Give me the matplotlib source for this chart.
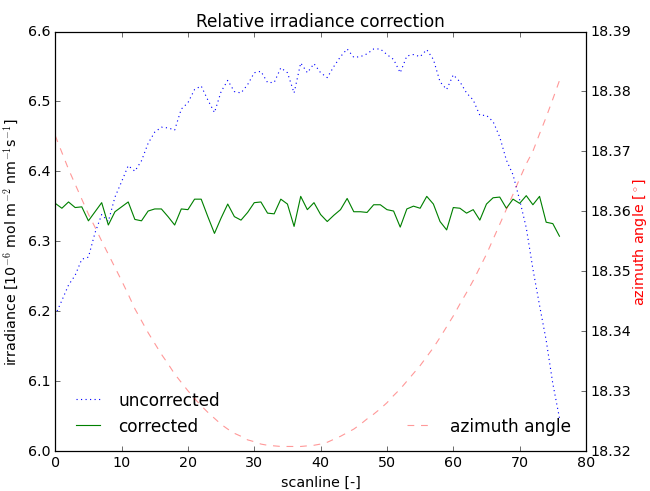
import numpy as np
import matplotlib
matplotlib.use('Agg')
import matplotlib.pyplot as plt

plt.style.use('classic')
plt.rcParams['font.size'] = 12.6

# irradiance per scanline
uncorrected = [6.194, 6.215, 6.237, 6.251, 6.274, 6.277, 6.312, 6.338, 6.328, 6.363,
               6.385, 6.408, 6.400, 6.415, 6.440, 6.456, 6.463, 6.462, 6.459, 6.489,
               6.498, 6.517, 6.522, 6.502, 6.484, 6.514, 6.530, 6.514, 6.512, 6.524,
               6.541, 6.543, 6.527, 6.527, 6.548, 6.541, 6.512, 6.555, 6.541, 6.554,
               6.541, 6.534, 6.550, 6.564, 6.575, 6.563, 6.564, 6.568, 6.575, 6.575,
               6.567, 6.560, 6.541, 6.565, 6.567, 6.564, 6.574, 6.560, 6.528, 6.517,
               6.538, 6.528, 6.512, 6.502, 6.480, 6.480, 6.471, 6.449, 6.416, 6.395,
               6.359, 6.319, 6.260, 6.208, 6.158, 6.096, 6.047]
corrected = [6.354, 6.347, 6.356, 6.348, 6.349, 6.329, 6.342, 6.355, 6.323, 6.342,
             6.349, 6.356, 6.331, 6.329, 6.343, 6.346, 6.346, 6.335, 6.323, 6.346,
             6.345, 6.360, 6.360, 6.335, 6.311, 6.333, 6.353, 6.335, 6.330, 6.341,
             6.355, 6.356, 6.340, 6.339, 6.360, 6.353, 6.321, 6.364, 6.345, 6.355,
             6.338, 6.328, 6.337, 6.345, 6.361, 6.342, 6.342, 6.341, 6.352, 6.352,
             6.345, 6.343, 6.320, 6.346, 6.350, 6.347, 6.364, 6.353, 6.328, 6.316,
             6.348, 6.347, 6.340, 6.345, 6.330, 6.353, 6.362, 6.363, 6.347, 6.360,
             6.354, 6.365, 6.352, 6.364, 6.327, 6.325, 6.307]
azimuth = [18.3726, 18.3698, 18.3670, 18.3645, 18.3620, 18.3595, 18.3573, 18.3550, 18.3528, 18.3506,
           18.3484, 18.3461, 18.3437, 18.3417, 18.3397, 18.3379, 18.3361, 18.3345, 18.3328, 18.3314,
           18.3300, 18.3287, 18.3275, 18.3264, 18.3254, 18.3244, 18.3236, 18.3229, 18.3224, 18.3218,
           18.3215, 18.3211, 18.3209, 18.3208, 18.3207, 18.3207, 18.3207, 18.3207, 18.3208, 18.3209,
           18.3211, 18.3214, 18.3219, 18.3224, 18.3230, 18.3236, 18.3244, 18.3253, 18.3261, 18.3270,
           18.3280, 18.3292, 18.3303, 18.3316, 18.3329, 18.3342, 18.3357, 18.3372, 18.3389, 18.3407,
           18.3425, 18.3445, 18.3464, 18.3484, 18.3506, 18.3528, 18.3553, 18.3578, 18.3603, 18.3628,
           18.3654, 18.3679, 18.3700, 18.3729, 18.3757, 18.3787, 18.3818]
scanline = np.arange(len(uncorrected))

fig, ax = plt.subplots(figsize=(8, 6.055), dpi=81.25)
fig.subplots_adjust(left=0.085, right=0.9015, bottom=0.082, top=0.934)

ax.plot(scanline, uncorrected, 'b:', label='uncorrected')
ax.plot(scanline, corrected, 'g-', label='corrected')
ax.set_xlim(0, 80)
ax.set_ylim(6.0, 6.6)
ax.set_xlabel('scanline [-]')
ax.set_ylabel(r'irradiance [10$^{-6}$ mol m$^{-2}$ nm$^{-1}$s$^{-1}$]')
ax.set_title('Relative irradiance correction')
ax.legend(loc='lower left', frameon=False)

ax2 = ax.twinx()
ax2.plot(scanline, azimuth, 'r--', alpha=0.4, label='azimuth angle')
ax2.set_ylim(18.32, 18.39)
ax2.yaxis.get_major_formatter().set_useOffset(False)
ax2.set_ylabel(r'azimuth angle [$^\circ$]', color='r', labelpad=0)
ax2.legend(loc='lower right', frameon=False)

plt.savefig('out.png', dpi=81.25)
